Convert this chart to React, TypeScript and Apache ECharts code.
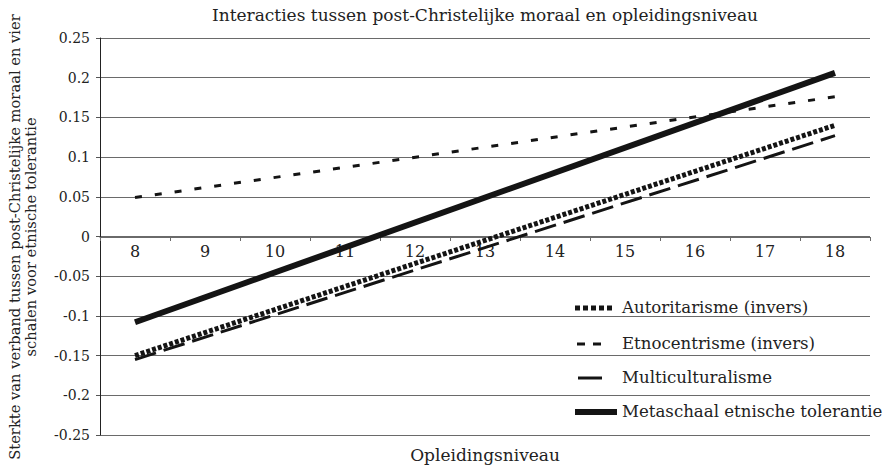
import React, { useEffect, useRef } from "react";
import * as echarts from "echarts";

const categories = ["8", "9", "10", "11", "12", "13", "14", "15", "16", "17", "18"];
// Values read at the start (8) and end (18) of each straight line
const autoritarisme = [-0.15, null, null, null, null, null, null, null, null, null, 0.14];
const etnocentrisme = [0.049, null, null, null, null, null, null, null, null, null, 0.176];
const multiculturalisme = [-0.155, null, null, null, null, null, null, null, null, null, 0.127];
const metaschaal = [-0.108, null, null, null, null, null, null, null, null, null, 0.206];

const seriesNames = [
  "Autoritarisme (invers)",
  "Etnocentrisme (invers)",
  "Multiculturalisme",
  "Metaschaal etnische tolerantie",
];

const titleText = "Interacties tussen post-Christelijke moraal en opleidingsniveau";
const yName = "Sterkte van verband tussen post-Christelijke moraal en vier\nschalen voor etnische tolerantie";
const xName = "Opleidingsniveau";

const FONT = "DejaVu Serif";
const INK = "#141414";

const styles: { width: number; dash: number[] | null }[] = [
  { width: 5, dash: [4, 2] },
  { width: 3, dash: [7, 13] },
  { width: 3, dash: [22, 8] },
  { width: 6, dash: null },
];

export default function App() {
  const ref = useRef<HTMLDivElement>(null);
  useEffect(() => {
    if (!ref.current) return;
    const chart = echarts.init(ref.current, null, { renderer: "svg" });
    const dataSets = [autoritarisme, etnocentrisme, multiculturalisme, metaschaal];
    const mk = (i: number) => ({
      name: seriesNames[i],
      type: "line",
      xAxisIndex: 0,
      yAxisIndex: 0,
      data: dataSets[i],
      connectNulls: true,
      showSymbol: false,
      symbol: "none",
      z: i === 2 ? 2 : 3,
      lineStyle: {
        color: INK,
        width: styles[i].width,
        type: styles[i].dash ? styles[i].dash : "solid",
        cap: "butt",
      },
    });

    const legendY = [307, 343, 377, 411];
    const legendLines: any[] = [];
    const legendSamples = [
      [575, 614],
      [577, 603],
      [578, 602],
      [575, 617],
    ];
    const legendDash = [[5, 3], [8, 8], null, null];
    seriesNames.forEach((n, i) => {
      legendLines.push({
        type: "line",
        shape: { x1: legendSamples[i][0], y1: legendY[i] + 1, x2: legendSamples[i][1], y2: legendY[i] + 1 },
        style: {
          stroke: INK,
          lineWidth: styles[i].width,
          lineDash: legendDash[i],
        },
        z: 10,
      });
      legendLines.push({
        type: "text",
        x: 622,
        y: legendY[i],
        style: {
          text: n,
          fontFamily: FONT,
          fontSize: 16.6,
          fill: "#222",
          align: "left",
          verticalAlign: "middle",
        },
        z: 10,
      });
    });

    chart.setOption({
      animation: false,
      backgroundColor: "#ffffff",
      textStyle: { fontFamily: FONT },
      grid: [
        { left: 100, right: 26, top: 38, bottom: 35, containLabel: false },
        { left: 100, right: 26, top: 38, height: 199, containLabel: false },
      ],
      xAxis: [
        {
          type: "category",
          gridIndex: 0,
          data: categories,
          boundaryGap: true,
          axisLine: { show: false },
          axisTick: { show: false },
          axisLabel: { show: false },
          splitLine: { show: false },
        },
        {
          type: "category",
          gridIndex: 1,
          data: categories,
          boundaryGap: true,
          position: "bottom",
          axisLine: { show: true, onZero: false, lineStyle: { color: "#6a6a6a", width: 1 } },
          axisTick: { show: true, length: 4, lineStyle: { color: "#6a6a6a" } },
          axisLabel: { fontFamily: FONT, fontSize: 16, color: "#222", margin: 6 },
          splitLine: { show: false },
        },
      ],
      yAxis: [
        {
          type: "value",
          gridIndex: 0,
          min: -0.25,
          max: 0.25,
          interval: 0.05,
          axisLine: { show: true, lineStyle: { color: "#222", width: 1 } },
          axisTick: { show: true, length: 4, lineStyle: { color: "#555" } },
          axisLabel: {
            fontFamily: FONT,
            fontSize: 14,
            color: "#222",
            margin: 10,
            formatter: (v: number) => String(Math.round(v * 100) / 100),
          },
          splitLine: { show: true, lineStyle: { color: "#6a6a6a", width: 1 } },
        },
        {
          type: "value",
          gridIndex: 1,
          min: 0,
          max: 1,
          show: false,
        },
      ],
      graphic: [
        {
          type: "text",
          x: 485,
          y: 15,
          style: {
            text: titleText,
            fontFamily: FONT,
            fontSize: 17,
            fill: "#222",
            align: "center",
            verticalAlign: "middle",
          },
        },
        {
          type: "text",
          x: 22,
          y: 237,
          rotation: Math.PI / 2,
          style: {
            text: yName,
            fontFamily: FONT,
            fontSize: 14.7,
            lineHeight: 16,
            fill: "#222",
            align: "center",
            verticalAlign: "middle",
          },
        },
        {
          type: "text",
          x: 485,
          y: 455,
          style: {
            text: xName,
            fontFamily: FONT,
            fontSize: 17,
            fill: "#222",
            align: "center",
            verticalAlign: "middle",
          },
        },
        ...legendLines,
      ],
      series: [mk(2), mk(0), mk(1), mk(3)],
    });
    return () => chart.dispose();
  }, []);
  return (
    <div
      ref={ref}
      style={{ position: "fixed", left: 0, top: 0, width: 896, height: 470 }}
    />
  );
}
